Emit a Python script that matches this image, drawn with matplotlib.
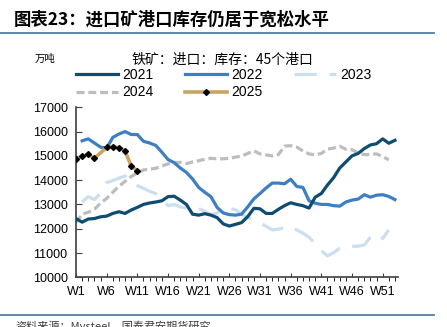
import numpy as np
import matplotlib
matplotlib.use("Agg")
import matplotlib.pyplot as plt
from matplotlib.lines import Line2D

plt.rcParams['font.family'] = ['Liberation Sans', 'Noto Sans CJK SC', 'DejaVu Sans']

# weekly data (10k tonnes), W1..W53
weeks = np.arange(1, 54)
nan = np.nan

y2021 = [12420, 12270, 12400, 12420, 12490, 12520, 12630, 12700, 12630, 12770,
         12880, 13000, 13060, 13100, 13150, 13320, 13340, 13180, 13000, 12600,
         12560, 12620, 12560, 12460, 12200, 12110, 12180, 12250, 12500, 12840,
         12820, 12630, 12630, 12800, 12950, 13070, 13000, 12950, 12850, 13300,
         13450, 13800, 14100, 14500, 14750, 15000, 15100, 15300, 15450, 15500,
         15700, 15520, 15640]

y2022 = [nan, 15620, 15700, 15530, 15360, 15320, 15760, 15900, 16000, 15880,
         15880, 15600, 15530, 15430, 15150, 14850, 14720, 14500, 14320, 14050,
         13700, 13500, 13320, 12880, 12650, 12580, 12560, 12600, 12900, 13230,
         13450, 13680, 13880, 13880, 13850, 14040, 13740, 13700, 13150, 13050,
         13000, 13000, 12950, 12930, 13100, 13180, 13220, 13400, 13300, 13380,
         13400, 13330, 13200]

y2023 = [nan, 13100, 13320, 13200, 13450, 13900, 13980, 14080, 14170, 13950,
         13780, 13660, 13540, 13450, 13200, 12950, 13000, 12900, 12850, 12780,
         12830, 12720, 12580, 12650, 12800, 12840, 12780, 12600, 12450, 12380,
         12250, 12100, 11950, 11980, 12050, 12110, 11950, 11820, 11650, 11380,
         11100, 10880, 11010, 11200, 11300, 11280, 11280, 11330, 11650, 11800,
         11600, 11950, nan]

y2024 = [12250, 12600, 12680, 12800, 13050, 13250, 13500, 13750, 13950, 14150,
         14300, 14420, 14450, 14490, 14580, 14670, 14730, 14730, 14680, 14750,
         14800, 14860, 14900, 14880, 14880, 14900, 14950, 14990, 15100, 15210,
         15080, 15040, 15000, 15050, 15400, 15420, 15360, 15200, 15080, 15040,
         15100, 15280, 15320, 15400, 15270, 15250, 15120, 15050, 15060, 15080,
         14970, 14840, nan]

# 2025: no reading for W5
weeks2025 = [1, 2, 3, 4, 6, 7, 8, 9, 10, 11]
y2025 = [14860, 14990, 15060, 14900, 15350, 15380, 15340, 15210, 14580, 14390]

tick_weeks = [1, 6, 11, 16, 21, 26, 31, 36, 41, 46, 51]
tick_labels = ["W%d" % w for w in tick_weeks]

fig = plt.figure(figsize=(4.47, 3.27), dpi=100)
ax = fig.add_axes([76 / 447, 1 - 277.3 / 327, 322 / 447, 170 / 327])

l21, = ax.plot(weeks, y2021, color="#0E4C70", lw=2.3, label="2021", zorder=4)
l22, = ax.plot(weeks, y2022, color="#3E7EC2", lw=2.3, label="2022", zorder=3)
l23, = ax.plot(weeks, y2023, color="#CCDFF1", lw=2.3, ls=(0, (7, 4)), label="2023", zorder=2)
l24, = ax.plot(weeks, y2024, color="#BDBDBD", lw=2.3, ls=(0, (2.5, 1.2)), label="2024", zorder=2)
l25, = ax.plot(weeks2025, y2025, color="#C9A463", lw=2.6, marker="D", ms=3,
               mfc="black", mec="black", label="2025", zorder=5)

ax.set_xlim(1, 53.5)
ax.set_ylim(10000, 17000)
ax.set_yticks(np.arange(10000, 17001, 1000))
ax.set_xticks(tick_weeks)
ax.set_xticklabels(tick_labels)
ax.set_xticks(weeks, minor=True)
ax.tick_params(axis="both", direction="in", labelsize=9, color="#404040")
ax.tick_params(axis="x", which="both", length=3, pad=6)
ax.tick_params(axis="y", length=4, pad=6)
for s in ["top", "right"]:
    ax.spines[s].set_visible(False)
for s in ["left", "bottom"]:
    ax.spines[s].set_color("#404040")
    ax.spines[s].set_linewidth(1.2)

# legend filled row by row: 2021 2022 2023 / 2024 2025
handles = [l21, l24, l22, l25, l23]
fig.legend(handles, [h.get_label() for h in handles],
           loc="upper left", bbox_to_anchor=(76 / 447, 1 - 68 / 327), ncol=3,
           frameon=False, fontsize=10, handlelength=3.0, handletextpad=0.3,
           columnspacing=2.3, labelspacing=0.25, borderpad=0, borderaxespad=0)

# header / footer
fig.text(14 / 447, 1 - 20 / 327, "图表23：进口矿港口库存仍居于宽松水平", fontsize=12.5,
         fontweight="bold", va="center", ha="left",
         family=["Noto Sans CJK SC", "DejaVu Sans"])
fig.add_artist(Line2D([0, 434 / 447], [1 - 33 / 327] * 2, color="#4F7FA0", lw=1.3))
fig.add_artist(Line2D([0, 434 / 447], [1 - 314.5 / 327] * 2, color="#4F7FA0", lw=1.3))
fig.text(35 / 447, 1 - 59 / 327, "万吨", fontsize=7.5, va="center",
         family=["Noto Sans CJK SC", "DejaVu Sans"])
fig.text(222 / 447, 1 - 60 / 327, "铁矿：进口：库存：45个港口", fontsize=10,
         va="center", ha="center", family=["Noto Sans CJK SC", "DejaVu Sans"])
fig.text(15 / 447, 1 - 321 / 327, "资料来源：Mysteel，国泰君安期货研究", fontsize=8,
         va="top", color="#404040", family=["Noto Sans CJK SC", "DejaVu Sans"])

fig.savefig("out.png", dpi=100)
